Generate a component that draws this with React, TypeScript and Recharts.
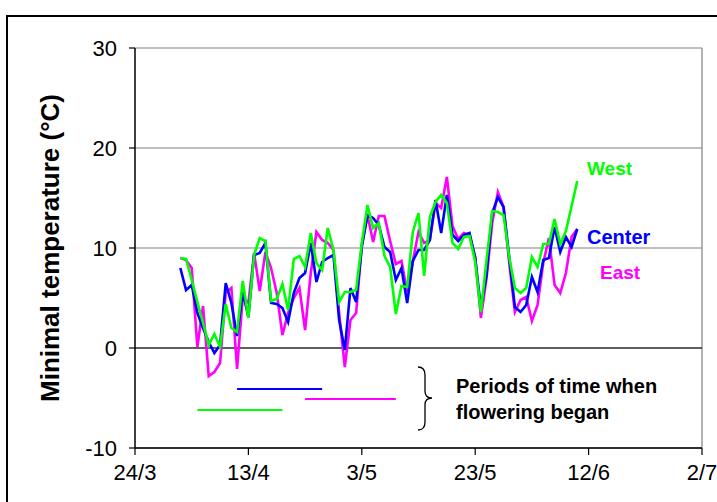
import React from "react";
import { LineChart, Line, XAxis, YAxis, CartesianGrid, ReferenceLine } from "recharts";

// Day index counted from 24/3 (day 0); daily readings start on 1/4 (day 8)
const firstDay = 8;
const xTicks = [0, 20, 40, 60, 80, 100];
const xTickLabels = ["24/3", "13/4", "3/5", "23/5", "12/6", "2/7"];
const yTicks = [-10, 0, 10, 20, 30];

const centerValues = [
  8.0, 5.8, 6.3, 3.5, 2.0, 0.6, -0.5, 0.3, 6.5, 4.5, 1.2, 5.6, 3.1, 9.3, 9.5, 10.5, 4.5, 4.4, 4.0, 2.6,
  5.5, 7.0, 7.5, 10.5, 6.6, 8.6, 9.0, 9.3, 2.8, -0.2, 6.0, 4.6, 10.1, 13.3, 13.0, 12.3, 10.1, 9.6, 6.8, 8.0,
  4.5, 8.7, 9.8, 9.8, 10.8, 14.8, 11.5, 15.3, 11.3, 10.7, 11.3, 11.5, 9.0, 4.0, 7.3, 13.5, 15.1, 14.1, 9.1, 4.1,
  3.6, 4.3, 7.1, 5.6, 8.8, 9.0, 12.1, 9.6, 11.1, 10.1, 11.9,
];
const westValues = [
  9.0, 8.9, 6.8, 4.6, 2.5, 0.3, 1.4, 0.1, 4.4, 2.0, 1.6, 6.7, 3.0, 9.3, 11.0, 10.7, 4.7, 4.9, 6.4, 3.8,
  8.9, 9.2, 8.1, 11.5, 8.5, 7.8, 12.0, 9.8, 4.6, 5.6, 5.6, 5.8, 10.5, 14.3, 12.0, 12.5, 9.2, 8.1, 3.4, 6.2,
  6.1, 11.6, 13.5, 7.2, 13.1, 14.6, 15.3, 14.5, 10.5, 9.9, 11.1, 11.2, 8.6, 3.6, 8.8, 13.7, 13.6, 13.3, 9.1, 6.0,
  5.5, 6.0, 9.1, 8.1, 10.4, 10.4, 12.9, 10.4, 11.7, 14.2, 16.7,
];
const eastValues = [
  9.0, 8.8, 8.0, 0.1, 4.2, -2.8, -2.4, -1.5, 5.5, 6.0, -2.1, 5.0, 4.5, 9.5, 5.7, 9.6, 8.0, 5.5, 1.3, 3.5,
  5.0, 6.0, 1.8, 7.5, 11.6, 10.8, 10.5, 9.8, 3.5, -1.9, 2.8, 3.5, 10.3, 13.3, 10.6, 13.2, 13.2, 10.7, 8.4, 8.7,
  5.6, 8.7, 11.6, 10.5, 10.8, 14.5, 14.0, 17.1, 12.2, 10.9, 11.5, 11.3, 9.1, 3.0, 7.0, 12.5, 15.6, 14.1, 8.5, 3.6,
  4.8, 5.1, 2.7, 4.3, 8.5, 11.0, 6.3, 5.5, 7.5, 11.1, 11.9,
];

// Periods of time when flowering began: [start day, end day, level]
const centerPeriod = [18, 33, -4.1];
const eastPeriod = [30, 46, -5.1];
const westPeriod = [11, 26, -6.2];

const toSeries = (vals: number[]) => vals.map((v, i) => ({ day: firstDay + i, v }));
const toPeriod = (p: number[]) => [
  { day: p[0], v: p[2] },
  { day: p[1], v: p[2] },
];

const BLUE = "#0000FF";
const GREEN = "#00FF00";
const MAGENTA = "#FF00FF";
const FONT = "'Liberation Sans', Arial, sans-serif";
const TICKFONT = "'Liberation Sans Narrow', 'Liberation Sans', Arial, sans-serif";

export default function App() {
  return (
    <div style={{ position: "absolute", left: 0, top: 0, width: 717, height: 502, overflow: "hidden", background: "#fff", fontFamily: FONT }}>
      <div style={{ position: "absolute", left: 6, top: 15, width: 800, height: 700, border: "2px solid #000", boxSizing: "border-box" }} />
      <div style={{ position: "absolute", left: 0, top: 0 }}>
        <LineChart width={717} height={502} margin={{ top: 48, right: 15, left: 0, bottom: 0 }}>
          <CartesianGrid horizontal={true} vertical={false} stroke="#808080" strokeWidth={1.2} />
          <XAxis
            type="number"
            dataKey="day"
            domain={[0, 100]}
            ticks={xTicks}
            tickFormatter={(d: number) => xTickLabels[xTicks.indexOf(d)]}
            height={54}
            axisLine={{ stroke: "#000", strokeWidth: 1.5 }}
            tickLine={{ stroke: "#000", strokeWidth: 1.2 }}
            tickSize={7}
            tickMargin={9}
            tick={{ fill: "#000", fontSize: 22, fontFamily: TICKFONT }}
            allowDataOverflow
          />
          <YAxis
            type="number"
            domain={[-10, 30]}
            ticks={yTicks}
            width={135}
            axisLine={{ stroke: "#000", strokeWidth: 1.5 }}
            tickLine={{ stroke: "#000", strokeWidth: 1.2 }}
            tickSize={6}
            tickMargin={12}
            tick={{ fill: "#000", fontSize: 22, fontFamily: TICKFONT }}
          />
          <ReferenceLine x={100} stroke="#808080" strokeWidth={1.2} />
          <ReferenceLine y={0} stroke="#000" strokeWidth={1.2} />
          <Line data={toSeries(eastValues)} dataKey="v" stroke={MAGENTA} strokeWidth={2.6} dot={false} isAnimationActive={false} />
          <Line data={toSeries(centerValues)} dataKey="v" stroke={BLUE} strokeWidth={2.6} dot={false} isAnimationActive={false} />
          <Line data={toSeries(westValues)} dataKey="v" stroke={GREEN} strokeWidth={2.6} dot={false} isAnimationActive={false} />
          <Line data={toPeriod(centerPeriod)} dataKey="v" stroke={BLUE} strokeWidth={2.2} dot={false} isAnimationActive={false} />
          <Line data={toPeriod(eastPeriod)} dataKey="v" stroke={MAGENTA} strokeWidth={2.2} dot={false} isAnimationActive={false} />
          <Line data={toPeriod(westPeriod)} dataKey="v" stroke={GREEN} strokeWidth={2.2} dot={false} isAnimationActive={false} />
        </LineChart>
      </div>
      <svg style={{ position: "absolute", left: 0, top: 0 }} width={717} height={502}>
        <text
          x={59}
          y={248}
          transform="rotate(-90 59 248)"
          textAnchor="middle"
          fontFamily={FONT}
          fontWeight="bold"
          fontSize={26}
          fill="#000"
        >
          Minimal temperature (°C)
        </text>
        <text x={587} y={175} fontFamily={FONT} fontWeight="bold" fontSize={19} fill={GREEN}>West</text>
        <text x={587} y={244} fontFamily={FONT} fontWeight="bold" fontSize={20} fill={BLUE}>Center</text>
        <text x={600} y={279} fontFamily={FONT} fontWeight="bold" fontSize={19} fill={MAGENTA}>East</text>
        <path
          d="M418,367 Q425,367 425,375 L425,391 Q425,398 432,398 Q425,398 425,405 L425,422 Q425,430 418,430"
          stroke="#000"
          strokeWidth={1.3}
          fill="none"
        />
        <text x={456} y={393} fontFamily={FONT} fontWeight="bold" fontSize={20} fill="#000">Periods of time when</text>
        <text x={456} y={419} fontFamily={FONT} fontWeight="bold" fontSize={20} fill="#000">flowering began</text>
      </svg>
    </div>
  );
}
